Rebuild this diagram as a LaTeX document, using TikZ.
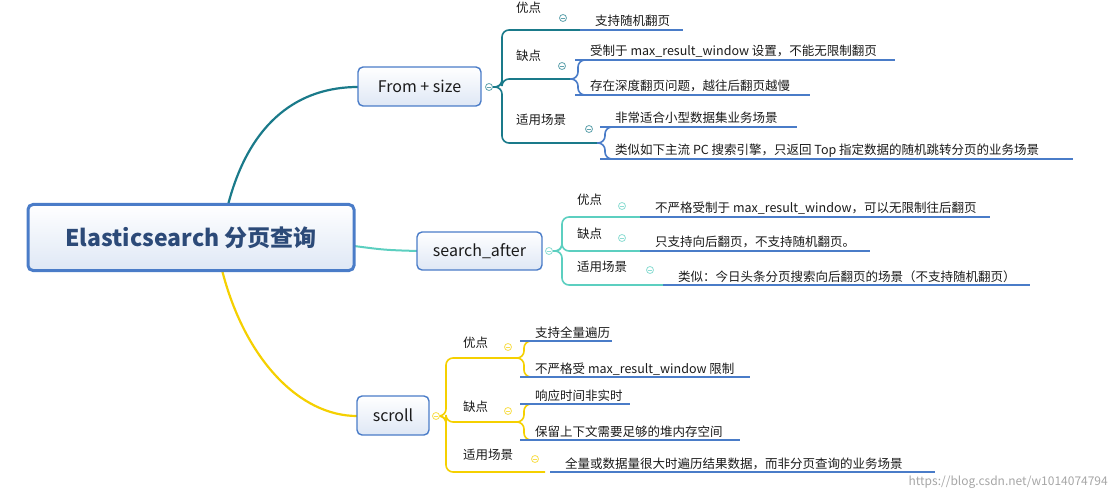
\documentclass[tikz,border=0pt]{standalone}
\usepackage{fontspec}
\setmainfont{Noto Sans CJK SC}
\usetikzlibrary{shadings}
\definecolor{tA}{HTML}{1A7A8A}
\definecolor{tB}{HTML}{5CCFC0}
\definecolor{tC}{HTML}{F5D000}
\definecolor{bl}{HTML}{4A7CC8}
\definecolor{tx}{HTML}{1A1A1A}
\newcommand{\brk}[6]{\draw[#6,line width=1.6pt,rounded corners=7pt] (#1,#2) -- (#3,#2) -- (#3,#4) -- (#5,#4);}
\newcommand{\lf}[4]{\node[anchor=base west,font=\fontsize{12.5}{14}\selectfont,text=tx,inner sep=0] at (#1,#2-4) {#4};\draw[bl,line width=1.4pt] (#1-15,#2) -- (#3,#2);}
\newcommand{\lb}[3]{\node[anchor=base west,font=\fontsize{12.5}{14}\selectfont,text=tx,inner sep=0] at (#1,#2-5) {#3};}
\newcommand{\cc}[3]{\node[circle,draw=#3!70!white,line width=0.8pt,inner sep=0,minimum size=7pt,fill=white] at (#1,#2) {};\draw[#3!70!white,line width=0.8pt] (#1-2,#2) -- (#1+2,#2);}
\begin{document}
\begin{tikzpicture}[x=1pt,y=-1pt,
  box/.style={draw=bl,rounded corners=5pt,top color=white,bottom color=bl!18,text=tx,inner sep=0}]
\useasboundingbox (0,0) rectangle (1111,497);
% main branches
\coordinate (r1) at (228,205); \coordinate (f1) at (358,87);
\draw[tA,line width=2.2pt] (r1) .. controls (250,120) and (300,87) .. (f1);
\draw[tB,line width=2pt] (354,246) .. controls (385,250) .. (417,251);
\draw[tC,line width=2.2pt] (222,270) .. controls (245,360) and (300,416) .. (357,416);
\node[box,line width=3pt,minimum width=326pt,minimum height=66pt,font=\fontsize{23}{26}\selectfont\bfseries,text=bl!60!black] (root) at (191,237.5) {Elasticsearch 分页查询};
\node[box,line width=1.4pt,minimum width=123pt,minimum height=39pt,font=\fontsize{16}{18}\selectfont] (fs) at (419.5,86.5) {From + size};
\node[box,line width=1.4pt,minimum width=125pt,minimum height=38pt,font=\fontsize{16}{18}\selectfont] (sa) at (479.5,251) {search\_after};
\node[box,line width=1.4pt,minimum width=72pt,minimum height=39pt,font=\fontsize{16}{18}\selectfont] (sc) at (393,415.5) {scroll};
% From + size
\brk{493}{87}{502}{30}{580}{tA}
\brk{493}{87}{502}{79}{572}{tA}
\brk{493}{87}{502}{143}{597}{tA}
\cc{489}{87}{tA}
\lb{516}{18}{优点}\cc{563}{18}{tA}
\lb{516}{66}{缺点}\cc{562}{66}{tA}
\lb{516}{130}{适用场景}\cc{589}{129}{tA}
\draw[bl,line width=1.4pt] (580,30) -- (683,30);
\node[anchor=base west,font=\fontsize{12.5}{14}\selectfont,text=tx,inner sep=0] at (595,26) {支持随机翻页};
\brk{570}{79}{578}{60}{592}{bl}\brk{570}{79}{578}{95}{592}{bl}
\lf{590}{60}{895}{受制于 max\_result\_window 设置，不能无限制翻页}
\lf{590}{95}{810}{存在深度翻页问题，越往后翻页越慢}
\brk{597}{143}{605}{127}{618}{bl}\brk{597}{143}{605}{159}{618}{bl}
\lf{615}{127}{797}{非常适合小型数据集业务场景}
\lf{615}{159}{1073}{类似如下主流 PC 搜索引擎，只返回 Top 指定数据的随机跳转分页的业务场景}
% search_after
\brk{553}{251}{562}{217}{642}{tB}
\brk{553}{251}{562}{251}{642}{tB}
\brk{553}{251}{562}{285}{665}{tB}
\cc{549}{251}{tB}
\lb{577}{210}{优点}\cc{622}{206}{tB}
\lb{577}{243}{缺点}\cc{622}{238}{tB}
\lb{577}{276}{适用场景}\cc{650}{270}{tB}
\lf{655}{217}{990}{不严格受制于 max\_result\_window，可以无限制往后翻页}
\lf{655}{251}{870}{只支持向后翻页，不支持随机翻页。}
\lf{678}{285}{1030}{类似：今日头条分页搜索向后翻页的场景（不支持随机翻页）}
% scroll
\brk{440}{416}{446}{358}{520}{tC}
\brk{440}{416}{446}{422}{520}{tC}
\brk{440}{416}{446}{472}{545}{tC}
\cc{436}{416}{tC}
\lb{463}{352}{优点}\cc{508}{347}{tC}
\lb{463}{416}{缺点}\cc{508}{411}{tC}
\lb{463}{464}{适用场景}\cc{535}{459}{tC}
\brk{516}{358}{524}{341}{538}{tC}\brk{516}{358}{524}{377}{538}{tC}
\lf{535}{341}{612}{支持全量遍历}
\lf{535}{377}{750}{不严格受 max\_result\_window 限制}
\brk{516}{422}{524}{404}{538}{tC}\brk{516}{422}{524}{440}{538}{tC}
\lf{535}{404}{630}{响应时间非实时}
\lf{535}{440}{740}{保留上下文需要足够的堆内存空间}
\lf{565}{472}{935}{全量或数据量很大时遍历结果数据，而非分页查询的业务场景}
\node[anchor=base east,font=\fontsize{12}{14}\selectfont,text=gray!70,inner sep=0] at (1108,485) {https://blog.csdn.net/w1014074794};
\end{tikzpicture}
\end{document}
